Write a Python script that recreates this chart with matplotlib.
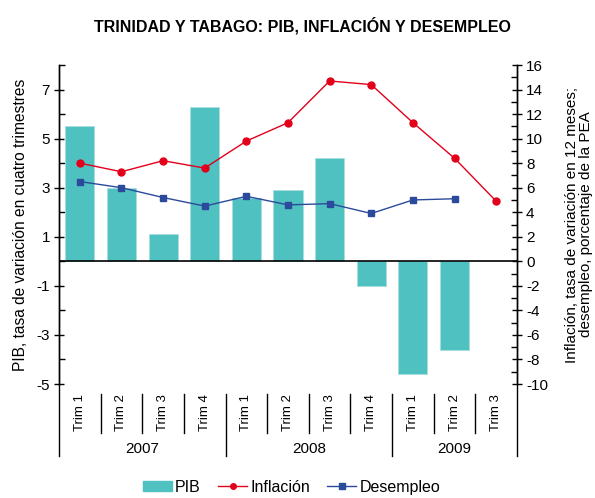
import matplotlib.pyplot as plt
from matplotlib.lines import Line2D
from matplotlib.patches import Patch
from matplotlib.ticker import MultipleLocator

plt.rcParams['font.family'] = ['Liberation Sans', 'DejaVu Sans']
plt.rcParams['axes.unicode_minus'] = False

quarters = ['Trim 1', 'Trim 2', 'Trim 3', 'Trim 4',
            'Trim 1', 'Trim 2', 'Trim 3', 'Trim 4',
            'Trim 1', 'Trim 2', 'Trim 3']
years = ['2007', '2008', '2009']
pib = [5.5, 3.0, 1.1, 6.3, 2.6, 2.9, 4.2, -1.0, -4.6, -3.6, None]
inflacion = [8.0, 7.3, 8.2, 7.6, 9.8, 11.3, 14.7, 14.4, 11.3, 8.4, 4.9]
desempleo = [6.5, 6.0, 5.2, 4.5, 5.3, 4.6, 4.7, 3.9, 5.0, 5.1, None]

teal = '#4fc1c1'
red = '#e2001a'
blue = '#2c4a9c'

fig = plt.figure(figsize=(5.95, 4.98), dpi=100)
ax = fig.add_axes([59 / 595, 1 - 384 / 498, 458 / 595, 319 / 498])
ax2 = ax.twinx()

x = list(range(len(quarters)))
bx = [i for i, v in zip(x, pib) if v is not None]
bv = [v for v in pib if v is not None]
ax.bar(bx, bv, width=0.7, color=teal, edgecolor='#a8dede', linewidth=0.6, zorder=2)
ax.axhline(0, color='black', lw=1.2, zorder=3)

ax2.plot(x, inflacion, color=red, lw=1, marker='o', ms=5, zorder=4)
dx = [i for i, v in zip(x, desempleo) if v is not None]
dv = [v for v in desempleo if v is not None]
ax2.plot(dx, dv, color=blue, lw=1, marker='s', ms=5, zorder=4)
ax2.set_zorder(ax.get_zorder() + 1)
ax2.patch.set_visible(False)

ax.set_xlim(-0.5, len(quarters) - 0.5)
ax.set_ylim(-5, 8)
ax2.set_ylim(-10, 16)
ax.set_yticks([-5, -3, -1, 1, 3, 5, 7])
ax.yaxis.set_minor_locator(MultipleLocator(1))
ax2.set_yticks(range(-10, 17, 2))
ax2.yaxis.set_minor_locator(MultipleLocator(1))
ax.tick_params(axis='y', which='major', direction='inout', length=7, width=1, labelsize=11, pad=3)
ax.tick_params(axis='y', which='minor', direction='in', length=4, width=1)
ax2.tick_params(axis='y', which='major', direction='inout', length=7, width=1, labelsize=11, pad=3)
ax2.tick_params(axis='y', which='minor', direction='in', length=4, width=1)
ax.set_xticks([])

for a in (ax, ax2):
    a.spines['top'].set_visible(False)
    a.spines['bottom'].set_visible(False)
    a.spines['left'].set_linewidth(1)
    a.spines['right'].set_linewidth(1)

# category labels below the plot
trans = ax.get_xaxis_transform()
for i, q in enumerate(quarters):
    ax.text(i, -0.09, q, rotation=90, ha='center', va='center', fontsize=9.5, transform=trans)
for i in range(1, len(quarters)):
    if i % 4 == 0:
        ax.plot([i - 0.5, i - 0.5], [-0.03, -0.225], color='black', lw=1, transform=trans, clip_on=False)
    else:
        ax.plot([i - 0.5, i - 0.5], [-0.03, -0.155], color='black', lw=1, transform=trans, clip_on=False)
ax.plot([-0.5, -0.5], [0, -0.225], color='black', lw=1, transform=trans, clip_on=False)
ax.plot([10.5, 10.5], [0, -0.225], color='black', lw=1, transform=trans, clip_on=False)
for k, yr in enumerate(years):
    start = 4 * k
    end = min(4 * k + 3, len(quarters) - 1)
    ax.text((start + end) / 2, -0.205, yr, ha='center', va='center', fontsize=11, transform=trans)

ax.set_ylabel('PIB, tasa de variación en cuatro trimestres', fontsize=11.2, labelpad=6)
ax2.set_ylabel('Inflación, tasa de variación en 12 meses;\ndesempleo, porcentaje de la PEA',
               fontsize=11, labelpad=12, linespacing=1.0)

fig.suptitle('TRINIDAD Y TABAGO: PIB, INFLACIÓN Y DESEMPLEO', x=0.508, y=0.965,
             fontsize=11.5, fontweight='bold')

handles = [Patch(facecolor=teal, edgecolor=teal),
           Line2D([], [], color=red, lw=1, marker='o', ms=4),
           Line2D([], [], color=blue, lw=1, marker='s', ms=4)]
fig.legend(handles, ['PIB', 'Inflación', 'Desempleo'], loc='center', bbox_to_anchor=(0.49, 0.022),
           ncol=3, frameon=False, fontsize=11.5, handlelength=1.8, handleheight=0.6,
           handletextpad=0.2, columnspacing=1.1)

fig.savefig('out.png', dpi=100)
